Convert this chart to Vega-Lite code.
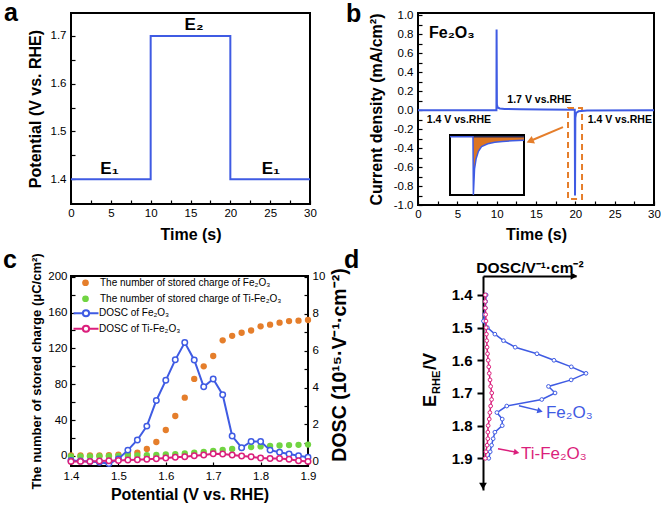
{
  "$schema": "https://vega.github.io/schema/vega-lite/v6.json",
  "padding": {"left": 2, "top": 0, "right": 0, "bottom": 0},
  "autosize": {"type": "pad"},
  "spacing": 4,
  "datasets": {
    "step": [{"t": 0, "E": 1.4}, {"t": 10, "E": 1.7}, {"t": 20, "E": 1.4}, {"t": 30, "E": 1.4}],
    "cur": [
      {"t": 0, "j": 0}, {"t": 9.97, "j": 0}, {"t": 9.99, "j": 0.85}, {"t": 10.03, "j": 0.06}, {"t": 10.12, "j": 0.028},
      {"t": 10.4, "j": 0.018}, {"t": 11, "j": 0.013}, {"t": 13, "j": 0.009}, {"t": 16, "j": 0.006}, {"t": 19.93, "j": 0.004},
      {"t": 19.96, "j": -0.9}, {"t": 20.0, "j": -0.08}, {"t": 20.1, "j": -0.03}, {"t": 20.4, "j": -0.012}, {"t": 21.5, "j": -0.004}, {"t": 30, "j": 0}
    ],
    "inset": [
      {"t": 19.4, "j": 0}, {"t": 19.99, "j": 0}, {"t": 20.0, "j": -1.0}, {"t": 20.03, "j": -0.55}, {"t": 20.07, "j": -0.38},
      {"t": 20.13, "j": -0.25}, {"t": 20.21, "j": -0.17}, {"t": 20.37, "j": -0.12}, {"t": 20.55, "j": -0.095}, {"t": 20.75, "j": -0.08},
      {"t": 21.0, "j": -0.07}, {"t": 21.3, "j": -0.062}
    ],
    "charge": [
      {"E": 1.40, "q": 0.5, "s": "The number of stored charge of Fe₂O₃"},
      {"E": 1.42, "q": 0.5, "s": "The number of stored charge of Fe₂O₃"},
      {"E": 1.44, "q": 0.5, "s": "The number of stored charge of Fe₂O₃"},
      {"E": 1.46, "q": 0.5, "s": "The number of stored charge of Fe₂O₃"},
      {"E": 1.48, "q": 0.8, "s": "The number of stored charge of Fe₂O₃"},
      {"E": 1.50, "q": 1.5, "s": "The number of stored charge of Fe₂O₃"},
      {"E": 1.52, "q": 2.5, "s": "The number of stored charge of Fe₂O₃"},
      {"E": 1.54, "q": 3.7, "s": "The number of stored charge of Fe₂O₃"},
      {"E": 1.56, "q": 7.8, "s": "The number of stored charge of Fe₂O₃"},
      {"E": 1.58, "q": 15.6, "s": "The number of stored charge of Fe₂O₃"},
      {"E": 1.60, "q": 29, "s": "The number of stored charge of Fe₂O₃"},
      {"E": 1.62, "q": 44.6, "s": "The number of stored charge of Fe₂O₃"},
      {"E": 1.64, "q": 65, "s": "The number of stored charge of Fe₂O₃"},
      {"E": 1.66, "q": 86, "s": "The number of stored charge of Fe₂O₃"},
      {"E": 1.68, "q": 100, "s": "The number of stored charge of Fe₂O₃"},
      {"E": 1.70, "q": 111.5, "s": "The number of stored charge of Fe₂O₃"},
      {"E": 1.72, "q": 129, "s": "The number of stored charge of Fe₂O₃"},
      {"E": 1.74, "q": 134, "s": "The number of stored charge of Fe₂O₃"},
      {"E": 1.76, "q": 137.5, "s": "The number of stored charge of Fe₂O₃"},
      {"E": 1.78, "q": 140, "s": "The number of stored charge of Fe₂O₃"},
      {"E": 1.80, "q": 144.6, "s": "The number of stored charge of Fe₂O₃"},
      {"E": 1.82, "q": 146.5, "s": "The number of stored charge of Fe₂O₃"},
      {"E": 1.84, "q": 148.7, "s": "The number of stored charge of Fe₂O₃"},
      {"E": 1.86, "q": 150.5, "s": "The number of stored charge of Fe₂O₃"},
      {"E": 1.88, "q": 151, "s": "The number of stored charge of Fe₂O₃"},
      {"E": 1.90, "q": 151.7, "s": "The number of stored charge of Fe₂O₃"},
      {"E": 1.40, "q": -0.5, "s": "The number of stored charge of Ti-Fe₂O₃"},
      {"E": 1.42, "q": -0.5, "s": "The number of stored charge of Ti-Fe₂O₃"},
      {"E": 1.44, "q": -0.4, "s": "The number of stored charge of Ti-Fe₂O₃"},
      {"E": 1.46, "q": -0.3, "s": "The number of stored charge of Ti-Fe₂O₃"},
      {"E": 1.48, "q": -0.2, "s": "The number of stored charge of Ti-Fe₂O₃"},
      {"E": 1.50, "q": 0, "s": "The number of stored charge of Ti-Fe₂O₃"},
      {"E": 1.52, "q": 0.3, "s": "The number of stored charge of Ti-Fe₂O₃"},
      {"E": 1.54, "q": 0.6, "s": "The number of stored charge of Ti-Fe₂O₃"},
      {"E": 1.56, "q": 0.9, "s": "The number of stored charge of Ti-Fe₂O₃"},
      {"E": 1.58, "q": 1.2, "s": "The number of stored charge of Ti-Fe₂O₃"},
      {"E": 1.60, "q": 1.6, "s": "The number of stored charge of Ti-Fe₂O₃"},
      {"E": 1.62, "q": 2.1, "s": "The number of stored charge of Ti-Fe₂O₃"},
      {"E": 1.64, "q": 2.8, "s": "The number of stored charge of Ti-Fe₂O₃"},
      {"E": 1.66, "q": 3.6, "s": "The number of stored charge of Ti-Fe₂O₃"},
      {"E": 1.68, "q": 4.6, "s": "The number of stored charge of Ti-Fe₂O₃"},
      {"E": 1.70, "q": 5.6, "s": "The number of stored charge of Ti-Fe₂O₃"},
      {"E": 1.72, "q": 6.8, "s": "The number of stored charge of Ti-Fe₂O₃"},
      {"E": 1.74, "q": 7.9, "s": "The number of stored charge of Ti-Fe₂O₃"},
      {"E": 1.76, "q": 9.0, "s": "The number of stored charge of Ti-Fe₂O₃"},
      {"E": 1.78, "q": 9.9, "s": "The number of stored charge of Ti-Fe₂O₃"},
      {"E": 1.80, "q": 10.6, "s": "The number of stored charge of Ti-Fe₂O₃"},
      {"E": 1.82, "q": 11.2, "s": "The number of stored charge of Ti-Fe₂O₃"},
      {"E": 1.84, "q": 11.7, "s": "The number of stored charge of Ti-Fe₂O₃"},
      {"E": 1.86, "q": 12.1, "s": "The number of stored charge of Ti-Fe₂O₃"},
      {"E": 1.88, "q": 12.4, "s": "The number of stored charge of Ti-Fe₂O₃"},
      {"E": 1.90, "q": 12.7, "s": "The number of stored charge of Ti-Fe₂O₃"}
    ],
    "dosc": [
      {"E": 1.40, "d": 0.05, "n": "DOSC of Fe₂O₃"},
      {"E": 1.42, "d": 0.02, "n": "DOSC of Fe₂O₃"},
      {"E": 1.44, "d": 0.0, "n": "DOSC of Fe₂O₃"},
      {"E": 1.46, "d": -0.05, "n": "DOSC of Fe₂O₃"},
      {"E": 1.48, "d": -0.12, "n": "DOSC of Fe₂O₃"},
      {"E": 1.50, "d": 0.13, "n": "DOSC of Fe₂O₃"},
      {"E": 1.52, "d": 0.61, "n": "DOSC of Fe₂O₃"},
      {"E": 1.54, "d": 1.16, "n": "DOSC of Fe₂O₃"},
      {"E": 1.56, "d": 1.91, "n": "DOSC of Fe₂O₃"},
      {"E": 1.58, "d": 3.3, "n": "DOSC of Fe₂O₃"},
      {"E": 1.60, "d": 4.39, "n": "DOSC of Fe₂O₃"},
      {"E": 1.62, "d": 5.5, "n": "DOSC of Fe₂O₃"},
      {"E": 1.64, "d": 6.44, "n": "DOSC of Fe₂O₃"},
      {"E": 1.66, "d": 5.49, "n": "DOSC of Fe₂O₃"},
      {"E": 1.68, "d": 4.04, "n": "DOSC of Fe₂O₃"},
      {"E": 1.70, "d": 4.46, "n": "DOSC of Fe₂O₃"},
      {"E": 1.72, "d": 3.61, "n": "DOSC of Fe₂O₃"},
      {"E": 1.74, "d": 1.37, "n": "DOSC of Fe₂O₃"},
      {"E": 1.76, "d": 0.74, "n": "DOSC of Fe₂O₃"},
      {"E": 1.78, "d": 1.08, "n": "DOSC of Fe₂O₃"},
      {"E": 1.80, "d": 1.08, "n": "DOSC of Fe₂O₃"},
      {"E": 1.82, "d": 0.61, "n": "DOSC of Fe₂O₃"},
      {"E": 1.84, "d": 0.5, "n": "DOSC of Fe₂O₃"},
      {"E": 1.86, "d": 0.4, "n": "DOSC of Fe₂O₃"},
      {"E": 1.88, "d": 0.31, "n": "DOSC of Fe₂O₃"},
      {"E": 1.90, "d": 0.22, "n": "DOSC of Fe₂O₃"},
      {"E": 1.40, "d": 0.0, "n": "DOSC of Ti-Fe₂O₃"},
      {"E": 1.42, "d": 0.0, "n": "DOSC of Ti-Fe₂O₃"},
      {"E": 1.44, "d": 0.0, "n": "DOSC of Ti-Fe₂O₃"},
      {"E": 1.46, "d": 0.02, "n": "DOSC of Ti-Fe₂O₃"},
      {"E": 1.48, "d": 0.04, "n": "DOSC of Ti-Fe₂O₃"},
      {"E": 1.50, "d": 0.05, "n": "DOSC of Ti-Fe₂O₃"},
      {"E": 1.52, "d": 0.07, "n": "DOSC of Ti-Fe₂O₃"},
      {"E": 1.54, "d": 0.09, "n": "DOSC of Ti-Fe₂O₃"},
      {"E": 1.56, "d": 0.11, "n": "DOSC of Ti-Fe₂O₃"},
      {"E": 1.58, "d": 0.14, "n": "DOSC of Ti-Fe₂O₃"},
      {"E": 1.60, "d": 0.18, "n": "DOSC of Ti-Fe₂O₃"},
      {"E": 1.62, "d": 0.22, "n": "DOSC of Ti-Fe₂O₃"},
      {"E": 1.64, "d": 0.25, "n": "DOSC of Ti-Fe₂O₃"},
      {"E": 1.66, "d": 0.3, "n": "DOSC of Ti-Fe₂O₃"},
      {"E": 1.68, "d": 0.34, "n": "DOSC of Ti-Fe₂O₃"},
      {"E": 1.70, "d": 0.41, "n": "DOSC of Ti-Fe₂O₃"},
      {"E": 1.72, "d": 0.4, "n": "DOSC of Ti-Fe₂O₃"},
      {"E": 1.74, "d": 0.34, "n": "DOSC of Ti-Fe₂O₃"},
      {"E": 1.76, "d": 0.29, "n": "DOSC of Ti-Fe₂O₃"},
      {"E": 1.78, "d": 0.25, "n": "DOSC of Ti-Fe₂O₃"},
      {"E": 1.80, "d": 0.18, "n": "DOSC of Ti-Fe₂O₃"},
      {"E": 1.82, "d": 0.16, "n": "DOSC of Ti-Fe₂O₃"},
      {"E": 1.84, "d": 0.16, "n": "DOSC of Ti-Fe₂O₃"},
      {"E": 1.86, "d": 0.11, "n": "DOSC of Ti-Fe₂O₃"},
      {"E": 1.88, "d": 0.04, "n": "DOSC of Ti-Fe₂O₃"},
      {"E": 1.90, "d": 0.0, "n": "DOSC of Ti-Fe₂O₃"}
    ]
  },
  "vconcat": [
    {
      "bounds": "flush",
      "spacing": 108,
      "hconcat": [
        {
          "width": 239, "height": 191,
          "view": {"stroke": "black", "strokeWidth": 2},
          "resolve": {"scale": {"x": "independent", "y": "independent"}},
          "layer": [
            {
              "data": {"name": "step"},
              "mark": {"type": "line", "interpolate": "step-after", "color": "#3F5BE3", "strokeWidth": 2},
              "encoding": {
                "x": {"field": "t", "type": "quantitative", "scale": {"domain": [0, 30], "nice": false},
                  "axis": {"values": [0, 2.5, 5, 7.5, 10, 12.5, 15, 17.5, 20, 22.5, 25, 27.5, 30], "labelExpr": "datum.value % 5 === 0 ? datum.label : ''", "labelOverlap": false, "labelFlush": false, "title": "Time (s)", "titleY": 35, "titleBaseline": "alphabetic", "labelPadding": 7}},
                "y": {"field": "E", "type": "quantitative", "scale": {"domain": [1.348, 1.748], "nice": false, "zero": false},
                  "axis": {"values": [1.4, 1.45, 1.5, 1.55, 1.6, 1.65, 1.7], "labelExpr": "abs(datum.value*10 - round(datum.value*10)) < 0.001 ? format(datum.value, '.1f') : ''", "labelOverlap": false, "labelFlush": false, "title": "Potential (V vs. RHE)", "titleX": -31, "titleAngle": 270, "titleBaseline": "alphabetic", "titleAlign": "center", "labelPadding": 9}}
              }
            },
            {
              "layer": [
                {"data": {"values": [{}]}, "mark": {"type": "text", "text": "a", "fontSize": 25, "fontWeight": "bold", "align": "left", "baseline": "alphabetic", "color": "black"},
                 "encoding": {"x": {"datum": -8.41, "type": "quantitative", "scale": {"domain": [0, 30], "nice": false, "zero": false}, "axis": null},
                              "y": {"datum": 1.731, "type": "quantitative", "scale": {"domain": [1.348, 1.748], "nice": false, "zero": false}, "axis": null}}},
                {"data": {"values": [{}]}, "mark": {"type": "text", "text": "E₁", "fontSize": 17, "fontWeight": "bold", "align": "center", "baseline": "alphabetic", "color": "black"},
                 "encoding": {"x": {"datum": 4.83, "axis": null}, "y": {"datum": 1.4115, "axis": null}}},
                {"data": {"values": [{}]}, "mark": {"type": "text", "text": "E₂", "fontSize": 17, "fontWeight": "bold", "align": "center", "baseline": "alphabetic", "color": "black"},
                 "encoding": {"x": {"datum": 15.44, "axis": null}, "y": {"datum": 1.712, "axis": null}}},
                {"data": {"values": [{}]}, "mark": {"type": "text", "text": "E₁", "fontSize": 17, "fontWeight": "bold", "align": "center", "baseline": "alphabetic", "color": "black"},
                 "encoding": {"x": {"datum": 25.1, "axis": null}, "y": {"datum": 1.4115, "axis": null}}}
              ]
            }
          ]
        },
        {
          "width": 236, "height": 192,
          "view": {"stroke": "black", "strokeWidth": 2},
          "resolve": {"scale": {"x": "independent", "y": "independent"}},
          "layer": [
            {
              "data": {"name": "cur"},
              "mark": {"type": "line", "color": "#3F5BE3", "strokeWidth": 2},
              "encoding": {
                "x": {"field": "t", "type": "quantitative", "scale": {"domain": [0, 30], "nice": false},
                  "axis": {"values": [0, 2.5, 5, 7.5, 10, 12.5, 15, 17.5, 20, 22.5, 25, 27.5, 30], "labelExpr": "datum.value % 5 === 0 ? datum.label : ''", "labelOverlap": false, "labelFlush": false, "title": "Time (s)", "titleY": 34, "titleBaseline": "alphabetic", "labelPadding": 7}},
                "y": {"field": "j", "type": "quantitative", "scale": {"domain": [-1, 1.025], "nice": false, "zero": false},
                  "axis": {"values": [-1, -0.9, -0.8, -0.7, -0.6, -0.5, -0.4, -0.3, -0.2, -0.1, 0, 0.1, 0.2, 0.3, 0.4, 0.5, 0.6, 0.7, 0.8, 0.9, 1.0], "labelExpr": "abs(datum.value*5 - round(datum.value*5)) < 0.001 ? replace(format(datum.value, '.1f'), '−', '-') : ''", "labelOverlap": false, "labelFlush": false, "title": "Current density (mA/cm²)", "titleX": -37, "titleAngle": 270, "titleBaseline": "alphabetic", "titleAlign": "center", "labelPadding": 9}}
              }
            },
            {
              "layer": [
                {"data": {"values": [{}]}, "mark": {"type": "text", "text": "b", "fontSize": 25, "fontWeight": "bold", "align": "left", "baseline": "alphabetic", "color": "black"},
                 "encoding": {"x": {"datum": -9.15, "type": "quantitative", "scale": {"domain": [0, 30], "nice": false, "zero": false}, "axis": null},
                              "y": {"datum": 0.93, "type": "quantitative", "scale": {"domain": [-1, 1.025], "nice": false, "zero": false}, "axis": null}}},
                {"data": {"values": [{}]}, "mark": {"type": "rect", "fill": "white", "fillOpacity": 0, "stroke": "#E57E2B", "strokeWidth": 2, "strokeDash": [6, 4]},
                 "encoding": {"x": {"datum": 19.07, "axis": null}, "x2": {"datum": 20.85}, "y": {"datum": 0.023, "axis": null}, "y2": {"datum": -0.937}}},
                {"data": {"values": [{}]}, "mark": {"type": "rule", "color": "#E57E2B", "strokeWidth": 2},
                 "encoding": {"x": {"datum": 18.43, "axis": null}, "y": {"datum": -0.178, "axis": null}, "x2": {"datum": 14.4}, "y2": {"datum": -0.32}}},
                {"data": {"values": [{}]}, "mark": {"type": "point", "shape": "triangle-up", "filled": true, "color": "#E57E2B", "size": 70, "opacity": 1, "angle": 247},
                 "encoding": {"x": {"datum": 14.24, "axis": null}, "y": {"datum": -0.327, "axis": null}}},
                {"data": {"values": [{}]}, "mark": {"type": "text", "text": "Fe₂O₃", "fontSize": 16, "fontWeight": "bold", "align": "left", "baseline": "alphabetic", "color": "black"},
                 "encoding": {"x": {"datum": 1.4, "axis": null}, "y": {"datum": 0.761, "axis": null}}},
                {"data": {"values": [{}]}, "mark": {"type": "text", "text": "1.7 V vs.RHE", "fontSize": 10.5, "fontWeight": "bold", "align": "center", "baseline": "alphabetic", "color": "black"},
                 "encoding": {"x": {"datum": 15.44, "axis": null}, "y": {"datum": 0.076, "axis": null}}},
                {"data": {"values": [{}]}, "mark": {"type": "text", "text": "1.4 V vs.RHE", "fontSize": 10.5, "fontWeight": "bold", "align": "center", "baseline": "alphabetic", "color": "black"},
                 "encoding": {"x": {"datum": 5.2, "axis": null}, "y": {"datum": -0.132, "axis": null}}},
                {"data": {"values": [{}]}, "mark": {"type": "text", "text": "1.4 V vs.RHE", "fontSize": 10.5, "fontWeight": "bold", "align": "center", "baseline": "alphabetic", "color": "black"},
                 "encoding": {"x": {"datum": 25.65, "axis": null}, "y": {"datum": -0.132, "axis": null}}}
              ]
            },
            {
              "layer": [
                {"data": {"values": [{}]}, "mark": {"type": "rect", "fill": "white", "stroke": "black", "strokeWidth": 2},
                 "encoding": {
                   "x": {"datum": 19.4, "type": "quantitative", "scale": {"domain": [19.4, 21.3], "range": [32, 106], "nice": false, "zero": false}, "axis": null},
                   "x2": {"datum": 21.3},
                   "y": {"datum": -1, "type": "quantitative", "scale": {"domain": [-1, 0.03], "range": [182, 122], "nice": false, "zero": false}, "axis": null},
                   "y2": {"datum": 0.03}}},
                {"data": {"name": "inset"}, "transform": [{"filter": "datum.t >= 19.99"}],
                 "mark": {"type": "area", "color": "#DD7522", "opacity": 1},
                 "encoding": {"x": {"field": "t", "type": "quantitative", "axis": null}, "y": {"field": "j", "type": "quantitative", "stack": null, "axis": null}, "y2": {"datum": 0}}},
                {"data": {"values": [{}]}, "mark": {"type": "rule", "color": "#2B2B55", "strokeWidth": 1.5},
                 "encoding": {"x": {"datum": 19.99, "axis": null}, "x2": {"datum": 21.3}, "y": {"datum": 0, "axis": null}}},
                {"data": {"name": "inset"}, "mark": {"type": "line", "color": "#3F5BE3", "strokeWidth": 1.5},
                 "encoding": {"x": {"field": "t", "type": "quantitative", "axis": null}, "y": {"field": "j", "type": "quantitative", "axis": null}}}
              ]
            }
          ]
        }
      ]
    },
    {
      "bounds": "flush",
      "spacing": 175,
      "hconcat": [
        {
          "width": 237, "height": 190,
          "resolve": {"scale": {"y": "independent"}},
          "layer": [
            {
              "data": {"name": "charge"},
              "mark": {"type": "point", "filled": true, "size": 40, "opacity": 1, "strokeWidth": 0},
              "encoding": {
                "x": {"field": "E", "type": "quantitative", "scale": {"domain": [1.4, 1.9], "nice": false, "zero": false},
                  "axis": {"values": [1.4, 1.45, 1.5, 1.55, 1.6, 1.65, 1.7, 1.75, 1.8, 1.85, 1.9], "labelExpr": "abs(datum.value*10 - round(datum.value*10)) < 0.001 ? format(datum.value, '.1f') : ''", "labelOverlap": false, "labelFlush": false, "title": "Potential (V vs. RHE)", "titleY": 33, "titleBaseline": "alphabetic", "labelPadding": 8}},
                "y": {"field": "q", "type": "quantitative", "scale": {"domain": [-11.2, 200.8], "nice": false, "zero": false},
                  "axis": {"values": [0, 20, 40, 60, 80, 100, 120, 140, 160, 180, 200], "labelExpr": "datum.value % 40 === 0 ? datum.label : ''", "labelOverlap": false, "labelFlush": false, "title": "The number of stored charge (μC/cm²)", "titleFontSize": 13, "titleX": -30.5, "titleAngle": 270, "titleBaseline": "alphabetic", "titleAlign": "center", "labelPadding": 8}},
                "color": {"field": "s", "type": "nominal",
                  "scale": {"domain": ["The number of stored charge of Fe₂O₃", "The number of stored charge of Ti-Fe₂O₃"], "range": ["#E57E2B", "#71D442"]},
                  "legend": {"orient": "none", "legendX": 9.5, "legendY": 264.75, "title": null, "symbolType": "circle", "symbolSize": 45, "symbolStrokeWidth": 0, "labelFontSize": 10, "labelOffset": 9.5, "rowPadding": 6, "padding": 0, "labelLimit": 400}}
              }
            },
            {
              "data": {"name": "dosc"},
              "mark": {"type": "line", "strokeWidth": 2, "point": {"filled": true, "fill": "white", "size": 30, "strokeWidth": 1.5}},
              "encoding": {
                "x": {"field": "E", "type": "quantitative"},
                "y": {"field": "d", "type": "quantitative", "scale": {"domain": [-0.25, 10.04], "nice": false, "zero": false},
                  "axis": {"orient": "right", "values": [0, 1, 2, 3, 4, 5, 6, 7, 8, 9, 10], "labelExpr": "datum.value % 2 === 0 ? datum.label : ''", "labelOverlap": false, "labelFlush": false, "title": "DOSC (10¹⁵·V⁻¹·cm⁻²)", "titleFontSize": 19.5, "titleX": 37, "titleY": 88.5, "titleAngle": 270, "titleBaseline": "alphabetic", "titleAlign": "center", "labelPadding": 8}},
                "stroke": {"field": "n", "type": "nominal",
                  "scale": {"domain": ["DOSC of Fe₂O₃", "DOSC of Ti-Fe₂O₃"], "range": ["#3F5BE3", "#DB1F7C"]},
                  "legend": {"orient": "none", "legendX": 7.5, "legendY": 292.75, "title": null, "symbolType": "M-2,0H-0.5M0.5,0H2M0.5,0A0.5,0.5 0 1 1 -0.5,0A0.5,0.5 0 1 1 0.5,0", "symbolSize": 156, "symbolStrokeWidth": 2, "symbolFillColor": "white", "labelFontSize": 10, "labelOffset": 5.5, "rowPadding": 0.5, "padding": 0, "labelLimit": 400}}
              }
            }
          ]
        },
        {
          "width": 93, "height": 214,
          "view": {"stroke": null},
          "layer": [
            {
              "data": {"name": "dosc"},
              "mark": {"type": "line", "strokeWidth": 1.5, "point": {"filled": true, "fill": "white", "size": 14, "strokeWidth": 1}},
              "encoding": {
                "x": {"field": "d", "type": "quantitative", "scale": {"domain": [-0.15, 5.8], "nice": false, "zero": false},
                  "axis": {"orient": "top", "ticks": false, "labels": false, "domain": true, "domainWidth": 2, "domainColor": "black", "title": "DOSC/V⁻¹·cm⁻²", "titleFontSize": 15.5, "titleY": -4, "titleBaseline": "alphabetic"}},
                "y": {"field": "E", "type": "quantitative", "scale": {"domain": [1.342, 1.997], "nice": false, "zero": false, "reverse": true},
                  "axis": {"values": [1.4, 1.5, 1.6, 1.7, 1.8, 1.9], "format": ".1f", "labelOverlap": false, "labelFlush": false, "domain": true, "domainWidth": 2, "domainColor": "black", "tickSize": 6, "tickWidth": 2, "labelFontSize": 15, "labelFontWeight": "bold", "labelPadding": 5, "title": null}},
                "stroke": {"field": "n", "type": "nominal", "scale": {"domain": ["DOSC of Fe₂O₃", "DOSC of Ti-Fe₂O₃"], "range": ["#3F5BE3", "#DB1F7C"]}, "legend": null},
                "order": {"field": "E", "type": "quantitative"}
              }
            },
            {"data": {"values": [{}]}, "mark": {"type": "text", "text": "c", "fontSize": 25, "fontWeight": "bold", "align": "left", "baseline": "alphabetic", "color": "black"},
             "encoding": {"x": {"datum": -30.86}, "y": {"datum": 1.3175}}},
            {"data": {"values": [{}]}, "mark": {"type": "text", "text": "d", "fontSize": 25, "fontWeight": "bold", "align": "left", "baseline": "alphabetic", "color": "black"},
             "encoding": {"x": {"datum": -9.04}, "y": {"datum": 1.3175}}},
            {"data": {"values": [{}]}, "mark": {"type": "point", "shape": "triangle-right", "filled": true, "color": "black", "size": 60, "opacity": 1},
             "encoding": {"x": {"datum": 5.67}, "y": {"datum": 1.342}}},
            {"data": {"values": [{}]}, "mark": {"type": "point", "shape": "triangle-down", "filled": true, "color": "black", "size": 60, "opacity": 1},
             "encoding": {"x": {"datum": -0.15}, "y": {"datum": 1.985}}},
            {"data": {"values": [{}]}, "mark": {"type": "rule", "color": "#3F5BE3", "strokeWidth": 1.5},
             "encoding": {"x": {"datum": 2.15}, "y": {"datum": 1.739}, "x2": {"datum": 3.45}, "y2": {"datum": 1.754}}},
            {"data": {"values": [{}]}, "mark": {"type": "point", "shape": "triangle-up", "filled": true, "color": "#3F5BE3", "size": 40, "opacity": 1, "angle": 105},
             "encoding": {"x": {"datum": 3.5}, "y": {"datum": 1.755}}},
            {"data": {"values": [{}]}, "mark": {"type": "rule", "color": "#DB1F7C", "strokeWidth": 1.5},
             "encoding": {"x": {"datum": 0.81}, "y": {"datum": 1.871}, "x2": {"datum": 1.95}, "y2": {"datum": 1.881}}},
            {"data": {"values": [{}]}, "mark": {"type": "point", "shape": "triangle-up", "filled": true, "color": "#DB1F7C", "size": 40, "opacity": 1, "angle": 101},
             "encoding": {"x": {"datum": 2.0}, "y": {"datum": 1.882}}},
            {"data": {"values": [{}]}, "mark": {"type": "text", "text": "Fe₂O₃", "fontSize": 17, "align": "left", "baseline": "middle", "color": "#3F5BE3"},
             "encoding": {"x": {"datum": 3.88}, "y": {"datum": 1.761}}},
            {"data": {"values": [{}]}, "mark": {"type": "text", "text": "Ti-Fe₂O₃", "fontSize": 17, "align": "left", "baseline": "middle", "color": "#DB1F7C"},
             "encoding": {"x": {"datum": 2.28}, "y": {"datum": 1.887}}},
            {"data": {"values": [{}]}, "mark": {"type": "text", "text": "E", "fontSize": 18, "fontWeight": "bold", "align": "left", "baseline": "alphabetic", "angle": 270, "color": "black"},
             "encoding": {"x": {"datum": -3.16}, "y": {"datum": 1.743}}},
            {"data": {"values": [{}]}, "mark": {"type": "text", "text": "RHE", "fontSize": 11, "fontWeight": "bold", "align": "left", "baseline": "alphabetic", "angle": 270, "color": "black"},
             "encoding": {"x": {"datum": -2.9}, "y": {"datum": 1.703}}},
            {"data": {"values": [{}]}, "mark": {"type": "text", "text": "/V", "fontSize": 18, "fontWeight": "bold", "align": "left", "baseline": "alphabetic", "angle": 270, "color": "black"},
             "encoding": {"x": {"datum": -3.16}, "y": {"datum": 1.63}}}
          ]
        }
      ]
    }
  ],
  "config": {
    "font": "Liberation Sans",
    "view": {"stroke": "black", "strokeWidth": 2},
    "axis": {"grid": false, "domain": false, "tickColor": "black", "tickSize": -4, "tickWidth": 1.2, "labelFont": "Liberation Sans", "labelFontSize": 11.5, "labelColor": "black", "labelOverlap": false, "labelFlush": false, "titleFont": "Liberation Sans", "titleFontSize": 16, "titleFontWeight": "bold", "titleColor": "black"},
    "legend": {"labelFont": "Liberation Sans", "labelColor": "black"},
    "text": {"font": "Liberation Sans"}
  }
}
